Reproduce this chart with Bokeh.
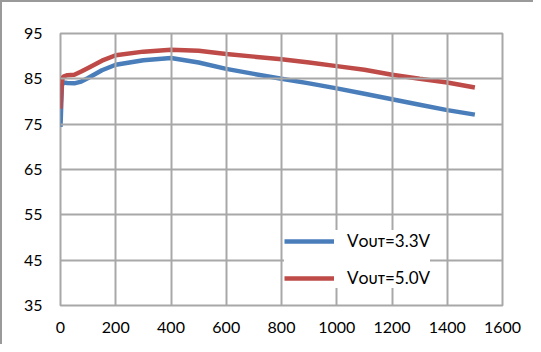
from bokeh.plotting import figure
from bokeh.models import Legend, LegendItem, FixedTicker
from bokeh.embed import file_html
from bokeh.resources import INLINE

# Data
load_ma = [0, 5, 10, 25, 50, 75, 100, 150, 200, 300, 400, 500, 600, 700,
           800, 900, 1000, 1100, 1200, 1300, 1400, 1500]
eff_3v3 = [74.4, 83.5, 84.2, 84.1, 84.0, 84.4, 85.2, 86.9, 88.1, 89.1, 89.6,
           88.6, 87.2, 86.1, 85.0, 84.0, 82.9, 81.7, 80.5, 79.3, 78.1, 77.1]
eff_5v0 = [78.4, 84.5, 85.5, 85.8, 85.9, 86.6, 87.4, 89.0, 90.2, 91.0, 91.4,
           91.2, 90.5, 89.9, 89.3, 88.6, 87.8, 87.0, 85.9, 85.0, 84.2, 83.1]
x_ticks = [0, 200, 400, 600, 800, 1000, 1200, 1400, 1600]
y_ticks = [35, 45, 55, 65, 75, 85, 95]
labels = ["V\u1d0f\u1d1c\u1d1b=3.3V", "V\u1d0f\u1d1c\u1d1b=5.0V"]

FONT = "Lato"
GRID = "#a8a8a8"

p = figure(width=533, height=344, output_backend="svg", toolbar_location=None,
           x_range=(x_ticks[0], x_ticks[-1]), y_range=(y_ticks[0], y_ticks[-1]),
           min_border_left=58, min_border_right=33,
           min_border_top=31, min_border_bottom=41)
p.styles = {"border-left": "2px solid #9a9a9a", "border-top": "2px solid #9a9a9a"}

xt = FixedTicker(ticks=x_ticks)
yt = FixedTicker(ticks=y_ticks)
p.xaxis.ticker = xt
p.yaxis.ticker = yt
p.xgrid.ticker = xt
p.ygrid.ticker = yt
p.grid.grid_line_color = GRID
p.grid.grid_line_width = 2
p.grid.level = "glyph"
p.outline_line_color = GRID
p.outline_line_width = 2
for ax in (p.xaxis[0], p.yaxis[0]):
    ax.axis_line_color = None
    ax.major_tick_line_color = None
    ax.minor_tick_line_color = None
    ax.major_label_text_font = FONT
    ax.major_label_text_font_size = "16px"
    ax.major_label_text_color = "#000000"
p.xaxis.major_label_standoff = 10
p.yaxis.major_label_standoff = 12

r1 = p.line(load_ma, eff_3v3, line_color="#4a7ebb", line_width=4.5)
r2 = p.line(load_ma, eff_5v0, line_color="#be4b48", line_width=4.5)

legend = Legend(items=[LegendItem(label=labels[0], renderers=[r1]),
                       LegendItem(label=labels[1], renderers=[r2])],
                location=(224, 17), orientation="vertical",
                glyph_width=50, glyph_height=20, label_height=20,
                spacing=16, padding=0, margin=0, label_standoff=13,
                border_line_color=None, background_fill_color="white",
                background_fill_alpha=1.0,
                label_text_font=FONT, label_text_font_size="17px",
                label_text_color="#000000")
p.add_layout(legend)

open("out.html", "w").write(file_html(p, INLINE))
